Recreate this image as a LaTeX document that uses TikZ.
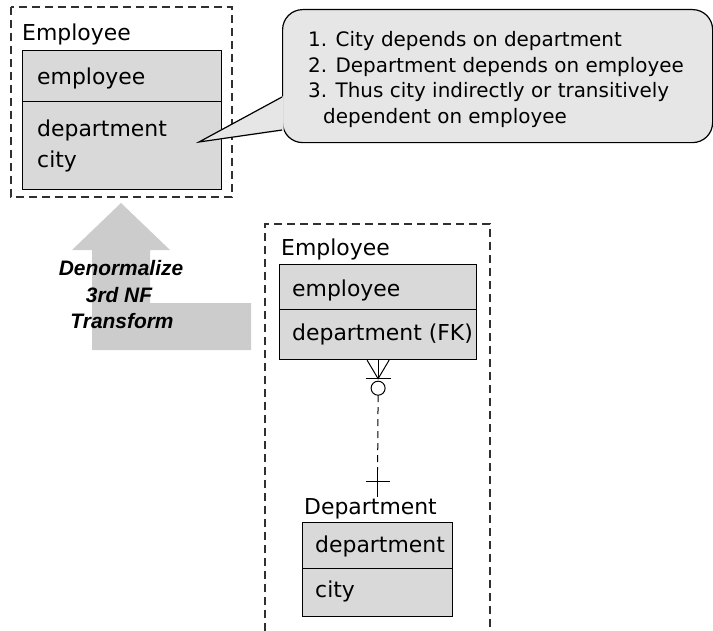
\documentclass[tikz,border=0pt]{standalone}
\usepackage{fontspec}
\setmainfont{DejaVu Sans}
\newfontfamily\arrowfont{Liberation Sans}
\usetikzlibrary{calc}
\definecolor{boxgray}{HTML}{D9D9D9}
\definecolor{callgray}{HTML}{E6E6E6}
\definecolor{arrowgray}{HTML}{CCCCCC}
\definecolor{dashgray}{HTML}{303030}
\begin{document}
\begin{tikzpicture}[x=1bp,y=-1bp,
  lbl/.style={anchor=base west, inner sep=0, font=\fontsize{22}{26}\selectfont},
  ctext/.style={anchor=base west, inner sep=0, font=\fontsize{20}{24}\selectfont},
  atext/.style={anchor=base, inner sep=0, font=\arrowfont\bfseries\itshape\fontsize{21}{25}\selectfont},
  ebox/.style={draw=black, line width=1.2bp, fill=boxgray, anchor=north west, inner sep=0},
  frame/.style={draw=dashgray, line width=1.2bp, dash pattern=on 8bp off 5bp},
  conn/.style={draw=black, line width=1bp},
  dconn/.style={conn, dash pattern=on 7bp off 5bp}]
\useasboundingbox (0,0) rectangle (713,631);

% frames
\draw[frame] (11,7) rectangle (232,197);
\draw[frame] (265,631) -- (265,224) -- (490,224) -- (490,631);

% entity 1
\node[lbl] (e1l) at (22,41) {Employee};
\node[ebox, minimum width=199bp, minimum height=51bp] (e1k) at (22,50) {};
\node[ebox, minimum width=199bp, minimum height=88bp] (e1a) at (22,101) {};
\node[lbl] (e1t1) at (37,85) {employee};
\node[lbl] (e1t2) at (37,137) {department};
\node[lbl] (e1t3) at (37,168) {city};
\coordinate (tip) at (199,142);

% callout
\node[draw=black, fill=callgray, rounded corners=20bp, line width=1.2bp,
      minimum width=430bp, minimum height=133bp, anchor=north west, inner sep=0] (note) at (282,9) {};
\fill[callgray] ($(note.north west)+(1.5,87)$) -- (tip) -- ($(note.north west)+(1.5,122)$) -- cycle;
\draw[conn, line width=1.2bp] ($(note.north west)+(0,88)$) -- (tip) -- ($(note.north west)+(0,121)$);
\node[ctext] (c1) at (308,47) {1. City depends on department};
\node[ctext] (c2) at (308,72.5) {2. Department depends on employee};
\node[ctext] (c3) at (308,98) {3. Thus city indirectly or transitively};
\node[ctext] (c4) at (323,123.5) {dependent on employee};

% transform arrow
\fill[arrowgray] (92,350) -- (92,250) -- (72,250) -- (121,203) -- (170,250) -- (150,250)
  -- (150,303) -- (251,303) -- (251,350) -- cycle;
\node[atext] (a1) at (121,275) {Denormalize};
\node[atext] (a2) at (119,302) {3rd NF};
\node[atext] (a3) at (122,328) {Transform};

% entity 2
\node[lbl] (e2l) at (281,255) {Employee};
\node[ebox, minimum width=197bp, minimum height=45bp] (e2k) at (279,264) {};
\node[ebox, minimum width=197bp, minimum height=50bp] (e2a) at (279,309) {};
\node[lbl] (e2t1) at (292,296) {employee};
\node[lbl] (e2t2) at (292,340) {department (FK)};

% department
\node[lbl] (dl) at (304,514) {Department};
\node[ebox, minimum width=150bp, minimum height=46bp] (dk) at (302,522) {};
\node[ebox, minimum width=150bp, minimum height=48bp] (da) at (302,568) {};
\node[lbl] (dt1) at (315,552) {department};
\node[lbl] (dt2) at (315,597) {city};

% relationship
\coordinate (cf) at ($(e2a.south)+(0,18.5)$);
\coordinate (dtop) at ($(dk.north)+(0,-25)$);
\draw[conn] (e2a.south) -- (cf);
\draw[conn] ($(e2a.south)+(-11,0)$) -- (cf) -- ($(e2a.south)+(11,0)$);
\draw[conn] ($(cf)+(-12.5,0)$) -- ($(cf)+(12.5,0)$);
\draw[conn] ($(cf)+(0,9.5)$) circle (7bp);
\draw[dconn] ($(cf)+(0,16.5)$) -- ($(dtop)+(0,-27)$);
\draw[conn] ($(dtop)+(0,-27)$) -- (dtop);
\draw[conn] ($(dtop)+(-12,-16)$) -- ($(dtop)+(12,-16)$);
\end{tikzpicture}
\end{document}
